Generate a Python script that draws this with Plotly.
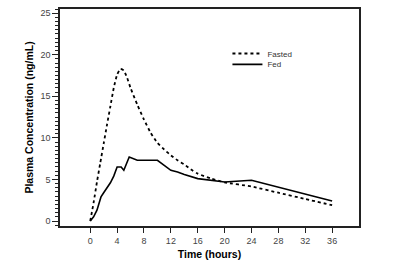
import plotly.graph_objects as go

fasted_t = [0, 0.5, 1, 1.5, 2, 2.5, 3, 3.5, 4, 4.5, 5, 5.5, 6, 7, 8, 9, 10, 11, 12, 13, 14, 15, 16, 18, 20, 24, 28, 32, 36]
fasted_c = [0, 2.2, 4.7, 7.0, 9.3, 11.6, 13.8, 16.0, 17.6, 18.3, 18.1, 17.2, 16.0, 14.0, 12.2, 10.6, 9.4, 8.6, 7.9, 7.3, 6.8, 6.2, 5.7, 5.1, 4.65, 4.15, 3.4, 2.65, 1.9]

fed_t = [0, 0.5, 1, 1.6, 2, 3, 3.5, 4, 4.6, 5, 5.8, 7, 10, 11, 12, 13, 14, 16, 20, 24, 36]
fed_c = [0, 0.5, 1.3, 2.9, 3.4, 4.6, 5.4, 6.5, 6.5, 6.1, 7.7, 7.3, 7.3, 6.7, 6.1, 5.9, 5.6, 5.1, 4.7, 4.9, 2.4]

x_ticks = [0, 4, 8, 12, 16, 20, 24, 28, 32, 36]
y_ticks = [0, 5, 10, 15, 20, 25]

fig = go.Figure()
fig.add_trace(go.Scatter(x=fasted_t, y=fasted_c, mode="lines", name="Fasted", legend="legend",
                         showlegend=True,
                         line=dict(color="black", width=1.8, dash="3px,3px", shape="spline", smoothing=0.5)))
fig.add_trace(go.Scatter(x=fed_t, y=fed_c, mode="lines", name="Fed", legend="legend2",
                         showlegend=True,
                         line=dict(color="black", width=1.6)))

axis_font = dict(family="Liberation Sans, Arial, sans-serif", size=9, color="#444")
leg_common = dict(font=dict(size=8, color="#333"), bgcolor="rgba(0,0,0,0)", itemwidth=30,
                  xanchor="left", yanchor="middle")
fig.update_layout(
    width=400, height=266,
    margin=dict(l=60, r=41, t=7, b=40),
    plot_bgcolor="white", paper_bgcolor="white",
    showlegend=True,
    font=dict(family="Liberation Sans, Arial, sans-serif", color="black"),
    legend=dict(x=0.56, y=0.795, **leg_common),
    legend2=dict(x=0.56, y=0.745, **leg_common),
    xaxis=dict(range=[-4.5, 40], tickvals=x_ticks, ticks="outside", ticklen=5,
               tickwidth=1, tickcolor="#222", showline=True, linewidth=1.5, linecolor="#222",
               mirror=True, showgrid=False, zeroline=False, tickfont=axis_font,
               title=dict(text="<b>Time (hours)</b>", font=dict(size=10.5, color="black"), standoff=6)),
    yaxis=dict(range=[-0.6, 25.5], tickvals=y_ticks, ticks="outside", ticklen=6,
               tickwidth=1, tickcolor="#222", showline=True, linewidth=1.5, linecolor="#222",
               mirror=True, showgrid=False, zeroline=False, tickfont=axis_font,
               minor=dict(dtick=0.5, tick0=0, ticks="outside", ticklen=3, tickwidth=1, tickcolor="#222"),
               title=dict(text="<b>Plasma Concentration (ng/mL)</b>", font=dict(size=10.5, color="black"), standoff=5)),
)

fig.write_html("out.html")
